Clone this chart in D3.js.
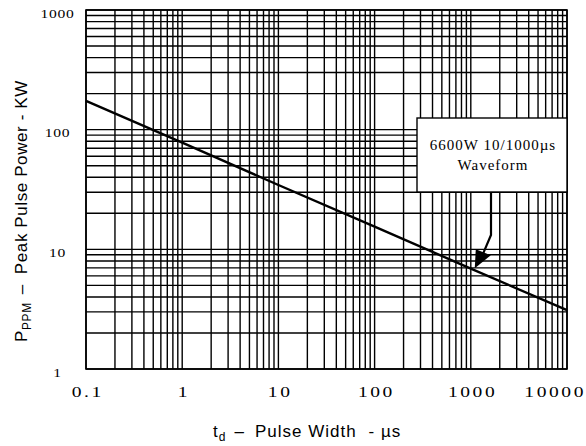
<!DOCTYPE html>
<html>
<head>
<meta charset="utf-8">
<script src="https://cdn.jsdelivr.net/npm/d3@7"></script>
<style>
  html, body { margin: 0; padding: 0; background: #fff; }
  svg { display: block; }
</style>
</head>
<body>
<svg width="586" height="446"></svg>
<script>
// data (log-log)
var pulseWidth = [0.1, 1, 10, 100, 1000, 10000];      // us
var peakPower  = [174, 78, 34.5, 15.5, 6.9, 3.1];     // kW
var xTickVals = [0.1, 1, 10, 100, 1000, 10000];
var xTickText = ['0.1', '1', '10', '100', '1000', '10000'];
var yTickVals = [1, 10, 100, 1000];
var yTickText = ['1', '10', '100', '1000'];
var noteLines = ['6600W 10/1000\u00b5s', 'Waveform'];
var notePoint = 1100; // where the arrow hits the curve

var svg = d3.select('svg');
// plot box (don't call it "top", window.top is taken)
var pL = 86, pR = 567, pT = 10, pB = 369;

var x = d3.scaleLog().domain([0.1, 10000]).range([pL, pR]);
var y = d3.scaleLog().domain([1, 1000]).range([pB, pT]);

var serif = '"Liberation Serif", "Times New Roman", serif';
var sans = '"Liberation Sans", Arial, sans-serif';

var g = svg.append('g');

// grid
g.selectAll('line.vx')
  .data(x.ticks())
  .enter().append('line')
  .attr('class', 'vx')
  .attr('x1', d => x(d)).attr('x2', d => x(d))
  .attr('y1', pT).attr('y2', pB)
  .attr('stroke', '#000').attr('stroke-width', 1.4);

g.selectAll('line.hy')
  .data(y.ticks())
  .enter().append('line')
  .attr('class', 'hy')
  .attr('y1', d => y(d)).attr('y2', d => y(d))
  .attr('x1', pL).attr('x2', pR)
  .attr('stroke', '#000').attr('stroke-width', 1.4);

g.append('rect')
  .attr('x', pL).attr('y', pT)
  .attr('width', pR - pL).attr('height', pB - pT)
  .attr('fill', 'none').attr('stroke', '#000').attr('stroke-width', 1.6);

// axes (labels only) - the digits in the original are wide, so stretch them
var xs = 1.3;
var xAxis = d3.axisBottom(x)
  .tickValues(xTickVals)
  .tickSize(0)
  .tickFormat((d, i) => xTickText[i]);
var gx = svg.append('g')
  .attr('transform', 'translate(0,' + pB + ')')
  .call(xAxis);
gx.select('.domain').remove();
gx.selectAll('text')
  .attr('y', 28).attr('dy', 0)
  .attr('x', 1)
  .attr('transform', 'scale(' + xs + ',1)')
  .style('font-family', serif)
  .style('font-size', '15px')
  .style('letter-spacing', '2px')
  .attr('fill', '#000');
gx.selectAll('.tick').filter(d => d === 10000).select('text')
  .attr('text-anchor', 'end').attr('x', 18.5 / xs);

var ys = 1.2;
var yAxis = d3.axisLeft(y)
  .tickValues(yTickVals)
  .tickSize(0)
  .tickFormat((d, i) => yTickText[i]);
var gy = svg.append('g')
  .attr('transform', 'translate(' + pL + ',0)')
  .call(yAxis);
gy.select('.domain').remove();
gy.selectAll('text')
  .attr('x', -28.5 / ys).attr('dy', 7)
  .attr('text-anchor', 'middle')
  .attr('transform', 'scale(' + ys + ',1)')
  .style('font-family', serif)
  .style('font-size', '13px')
  .style('letter-spacing', '0.6px')
  .attr('fill', '#000');

// curve
var line = d3.line()
  .x((d, i) => x(pulseWidth[i]))
  .y(d => y(d));
svg.append('path')
  .datum(peakPower)
  .attr('d', line)
  .attr('fill', 'none')
  .attr('stroke', '#000')
  .attr('stroke-width', 2.4);

// annotation box
var bx = 417, by = 118, bw = 150, bh = 74;
svg.append('rect')
  .attr('x', bx).attr('y', by).attr('width', bw).attr('height', bh)
  .attr('fill', '#fff').attr('stroke', '#000').attr('stroke-width', 1.4);
svg.selectAll('text.note')
  .data(noteLines)
  .enter().append('text')
  .attr('class', 'note')
  .attr('x', bx + bw / 2 + 1)
  .attr('y', (d, i) => 150 + i * 20)
  .attr('text-anchor', 'middle')
  .style('font-family', serif)
  .style('font-size', '15px')
  .style('letter-spacing', '1px')
  .text(d => d);

// arrow
var interp = d3.scaleLog().domain(pulseWidth).range(peakPower.map(v => Math.log(v)));
var tipX = x(notePoint), tipY = y(Math.exp(interp(notePoint))) - 2;
svg.append('path')
  .attr('d', 'M491,' + (by + bh) + ' V235 L' + (tipX + 8) + ',' + (tipY - 14))
  .attr('fill', 'none').attr('stroke', '#000').attr('stroke-width', 2.2);
svg.append('path')
  .attr('d', 'M' + tipX + ',' + tipY + ' L' + (tipX + 1) + ',' + (tipY - 19) +
        ' L' + (tipX + 16) + ',' + (tipY - 13) + ' Z')
  .attr('fill', '#000');

// axis titles
var xt = svg.append('text')
  .attr('x', 213).attr('y', 437)
  .style('font-family', sans).style('font-size', '17px')
  .style('letter-spacing', '1px')
  .attr('fill', '#000');
xt.append('tspan').text('t');
xt.append('tspan').attr('dy', 4).style('font-size', '12px').text('d');
xt.append('tspan').attr('dy', -4).attr('dx', 8).text('\u2013');
xt.append('tspan').attr('dx', 10).text('Pulse Width');
xt.append('tspan').attr('dx', 12).text('- \u00b5s');

var yt = svg.append('text')
  .attr('transform', 'translate(27,342) rotate(-90)')
  .style('font-family', sans).style('font-size', '17px')
  .style('letter-spacing', '0.6px')
  .attr('fill', '#000');
yt.append('tspan').text('P');
yt.append('tspan').attr('dy', 4).style('font-size', '12px').text('PPM');
yt.append('tspan').attr('dy', -4).attr('dx', 8).text('\u2013');
yt.append('tspan').attr('dx', 10).text('Peak Pulse Power - KW');
</script>
</body>
</html>
